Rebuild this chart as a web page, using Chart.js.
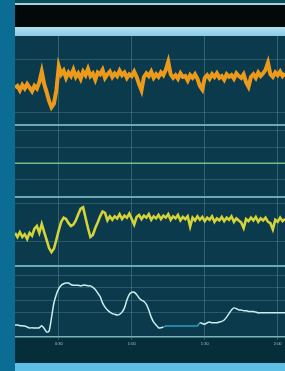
<!DOCTYPE html>
<html>
<head>
<meta charset="utf-8">
<script src="https://cdn.jsdelivr.net/npm/chart.js@4/dist/chart.umd.min.js"></script>
<style>
    html, body { margin: 0; padding: 0; }
    body { width: 285px; height: 371px; overflow: hidden; background: #0a3a4c; position: relative; font-family: "DejaVu Sans", sans-serif; }
    #lado { position: absolute; left: 0; top: 0; width: 15px; height: 371px; background: #0b6d93; }
    #cima1 { position: absolute; left: 15px; top: 0; width: 270px; height: 3px; background: #0c4b58; }
    #cima2 { position: absolute; left: 15px; top: 3px; width: 270px; height: 2px; background: #9fd3df; }
    #negro { position: absolute; left: 15px; top: 5px; width: 270px; height: 22px; background: #030809; }
    #banda { position: absolute; left: 15px; top: 27px; width: 270px; height: 9px; background: linear-gradient(#b2e0f0, #8ccbe4); }
    #abajo { position: absolute; left: 15px; top: 363px; width: 270px; height: 8px; background: #5ebfe6; }
    #marco { position: absolute; left: 15px; top: 36px; width: 270px; height: 327px; background: #062e3a; }
    #myChart { filter: blur(0.4px); }
    .etq { position: absolute; font-size: 4px; line-height: 4px; color: #8fc4cc; white-space: nowrap; }
</style>
</head>
<body>
<div id="lado"></div>
<div id="cima1"></div>
<div id="cima2"></div>
<div id="negro"></div>
<div id="banda"></div>
<div id="abajo"></div>
<div class="etq" style="left:184px; top:37px; color:#a9d2da;">ECG</div>
<div class="etq" style="left:110px; top:47px;">Pleth</div>
<div class="etq" style="left:111px; top:52px; color:#d0eef2;">SpO2</div>
<div class="etq" style="left:256px; top:47px;">Resp</div>
<div class="etq" style="left:238px; top:52px; color:#d0eef2;">HR 72 bpm SpO2 97%</div>
<div id="marco"><canvas id="myChart"></canvas></div>

<script>
// minuto del primer punto, un punto por minuto
const inicio = 12

const ondaPleth = [
    42, 44, 39, 45, 41, 46, 42, 38, 44, 41,
    48, 60, 46, 37, 27, 20, 24, 39, 66, 57,
    61, 53, 59, 55, 62, 54, 58, 52, 60, 56,
    63, 55, 58, 51, 59, 57, 62, 53, 57, 60,
    54, 58, 55, 61, 56, 59, 53, 57, 55, 60,
    54, 46, 39, 54, 58, 55, 60, 53, 57, 54,
    59, 56, 62, 71, 57, 53, 56, 52, 58, 54,
    55, 50, 56, 53, 57, 52, 44, 40, 53, 56,
    52, 57, 54, 58, 53, 55, 51, 57, 54, 56,
    52, 58, 55, 53, 57, 48, 43, 54, 57, 53,
    59, 55, 58, 62, 70, 57, 54, 59, 56, 60,
    55, 58
]

const tiemposPlano = [12, 123]
const ondaPlana = [47, 47]

const ondaEcg = [
    48, 42, 49, 42, 46, 39, 48, 44, 54, 58,
    48, 61, 49, 38, 26, 20, 25, 38, 52, 64,
    70, 68, 62, 58, 60, 66, 75, 83, 85, 70,
    55, 42, 45, 55, 63, 72, 79, 77, 66, 72,
    67, 72, 69, 75, 68, 73, 70, 76, 68, 60,
    71, 74, 68, 73, 70, 75, 67, 72, 69, 74,
    68, 73, 70, 75, 67, 72, 69, 74, 66, 71,
    68, 72, 57, 70, 66, 72, 67, 71, 65, 70,
    67, 72, 64, 69, 66, 71, 65, 70, 67, 72,
    64, 69, 66, 63, 55, 68, 65, 70, 66, 71,
    64, 69, 66, 70, 64, 62, 53, 67, 64, 70,
    65, 68
]

const ondaResp = [
    17, 17, 16, 16, 15.5, 14, 12.7, 13, 12.7, 12.7,
    13, 16, 12, 7, 8, 27, 48, 60, 68, 73,
    75, 76, 76, 74, 73, 73, 73, 72, 73, 73,
    72, 72, 70, 67, 62, 57, 48, 42, 38, 35,
    33, 32, 31, 32, 35, 41, 52, 60, 63, 63,
    60, 55, 52, 50, 46, 38, 28, 21, 17, 13,
    13, 14, 15.5, 15.5, 15.5, 15.5, 15.5, 15.5, 15.5, 15.5,
    15.5, 15.5, 15.5, 15.5, 15.5, 15.5, 20, 19, 18, 20,
    21, 20, 20, 20, 21, 22, 24, 28, 33, 38,
    41, 40, 38, 38, 37, 37, 36, 36, 36, 35,
    34, 34, 34, 34, 34, 34, 34, 34, 34, 34,
    34, 34
]

const ticksX = [30, 60, 90, 120]
const etiquetasX = ["0:30", "1:00", "1:30", "2:00"]

// lineas horizontales de cada panel
const lineasPleth = [13.5, 74]
const lineasPlano = [24, 69, 93, 100]
const lineasEcg = [35, 91, 100]
const lineasResp = [34, 52, 70, 87, 100]

const puntos = (valores) => valores.map((v, i) => ({ x: inicio + i, y: v }))

function ejeY(lineas, peso, orden) {
    return {
        type: "linear",
        position: "left",
        stack: "monitor",
        stackWeight: peso,
        weight: orden,
        min: 0,
        max: 100,
        ticks: { display: false },
        border: { display: false },
        grid: {
            drawTicks: false,
            color: c => c.tick.value === 100 ? "#6aaab3" : "rgba(120,175,185,0.28)",
            lineWidth: c => c.tick.value === 100 ? 2 : 1
        },
        afterBuildTicks: s => { s.ticks = lineas.map(v => ({ value: v })) }
    }
}

function traza(nombre, valores, eje, color, ancho) {
    return {
        label: nombre,
        data: puntos(valores),
        yAxisID: eje,
        borderColor: color,
        borderWidth: ancho,
        pointRadius: 0,
        tension: 0
    }
}

const fondo = {
    id: "fondo",
    beforeDraw(chart) {
        const { ctx, chartArea } = chart
        ctx.save()
        ctx.fillStyle = "#0a3a4c"
        ctx.fillRect(chartArea.left, chartArea.top, chartArea.width, chartArea.height)
        ctx.restore()
    }
}

const grafica = new Chart(document.querySelector("#myChart"), {
    type: "line",
    data: {
        datasets: [
            traza("Pleth", ondaPleth, "y1", "#eb9a1c", 4),
            traza("Pleth", ondaPleth, "y1", "#ffd84a", 1.2),
            {
                label: "Plano",
                data: tiemposPlano.map((t, i) => ({ x: t, y: ondaPlana[i] })),
                yAxisID: "y2",
                borderColor: "#6fbf8a",
                borderWidth: 1.5,
                pointRadius: 0
            },
            traza("ECG", ondaEcg, "y3", "#d4d338", 2.6),
            traza("ECG", ondaEcg, "y3", "#f6f6a8", 0.9),
            {
                label: "Resp",
                data: puntos(ondaResp),
                yAxisID: "y4",
                borderColor: "#cdeef0",
                borderWidth: 1.5,
                pointRadius: 0,
                tension: 0.2,
                segment: {
                    borderColor: c => (c.p0.parsed.x >= 73 && c.p1.parsed.x <= 88) ? "#2a9fc0" : "#cdeef0"
                }
            }
        ]
    },
    options: {
        responsive: true,
        maintainAspectRatio: false,
        animation: false,
        layout: { padding: 0 },
        plugins: {
            legend: { display: false },
            tooltip: { enabled: false }
        },
        scales: {
            x: {
                type: "linear",
                min: 12,
                max: 123,
                afterBuildTicks: s => { s.ticks = ticksX.map(v => ({ value: v })) },
                ticks: {
                    color: "rgba(200,232,236,0.75)",
                    font: { size: 4 },
                    padding: 1,
                    maxRotation: 0,
                    callback: (v, i) => etiquetasX[i]
                },
                grid: { color: "rgba(150,205,215,0.28)", tickLength: 3, lineWidth: 1 },
                border: { color: "#79b3bb", width: 1.5 },
                afterFit: s => { s.height = 26 }
            },
            y1: ejeY(lineasPleth, 89, 4),
            y2: ejeY(lineasPlano, 72, 3),
            y3: ejeY(lineasEcg, 69, 2),
            y4: ejeY(lineasResp, 71, 1)
        }
    },
    plugins: [fondo]
})
</script>
</body>
</html>
